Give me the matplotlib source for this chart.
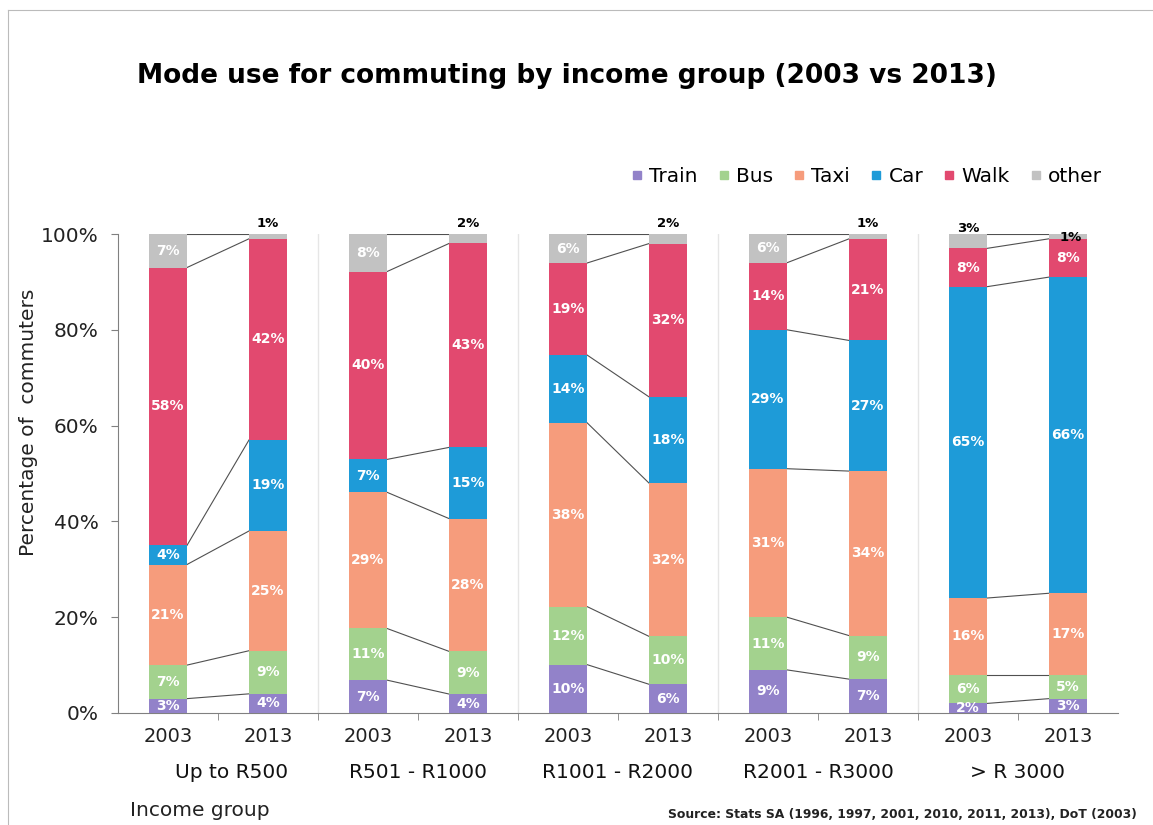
import matplotlib
matplotlib.use("Agg")
from matplotlib import pyplot as plt
from matplotlib.lines import Line2D
import numpy as np

# data (percent, as labelled)
groups = ["Up to R500", "R501 - R1000", "R1001 - R2000", "R2001 - R3000", "> R 3000"]
years = ["2003", "2013"]
modes = ["Train", "Bus", "Taxi", "Car", "Walk", "other"]
train = [3, 4, 7, 4, 10, 6, 9, 7, 2, 3]
bus = [7, 9, 11, 9, 12, 10, 11, 9, 6, 5]
taxi = [21, 25, 29, 28, 38, 32, 31, 34, 16, 17]
car = [4, 19, 7, 15, 14, 18, 29, 27, 65, 66]
walk = [58, 42, 40, 43, 19, 32, 14, 21, 8, 8]
other = [7, 1, 8, 2, 6, 2, 6, 1, 3, 1]
colors = ["#9282c9", "#a3d28e", "#f69c7c", "#1e9bd8", "#e2496f", "#c2c2c2"]

plt.rcParams['font.family'] = ['DejaVu Sans']

vals = np.array([train, bus, taxi, car, walk, other], dtype=float)
share = vals / vals.sum(axis=0) * 100   # 100% stacked
x = np.arange(vals.shape[1])
w = 0.38

fig = plt.figure(figsize=(11.53, 8.25), dpi=100)
ax = fig.add_axes([118/1153, 112/825, 1000/1153, 479/825])

bottom = np.zeros(len(x))
for i, m in enumerate(modes):
    ax.bar(x, share[i], w, bottom=bottom, color=colors[i], label=m, zorder=3)
    for j in range(len(x)):
        v = vals[i, j]
        yc = bottom[j] + share[i, j] / 2
        if m == "other" and v < 4:
            # small values written in black above the bar
            off = (0, 3)
            if j == 8:
                off = (0, -1)
            elif j == 9:
                off = (2, -7)
            ax.annotate("%d%%" % v, (x[j], 100), xytext=off, textcoords="offset points",
                        ha="center", va="bottom", fontsize=9.5, fontweight="bold", color="black",
                        annotation_clip=False, zorder=5)
        else:
            ax.text(x[j], yc, "%d%%" % v, ha="center", va="center", fontsize=10,
                    fontweight="bold", color="white", zorder=4)
    bottom = bottom + share[i]

# series lines between 2003 and 2013 bars
cum = np.cumsum(share, axis=0)
for g in range(len(groups)):
    a, b = 2 * g, 2 * g + 1
    for k in range(cum.shape[0]):
        ax.plot([x[a] + w / 2, x[b] - w / 2], [cum[k, a], cum[k, b]],
                color="#505050", lw=0.8, zorder=2)

# faint separators between income groups
for g in range(1, len(groups)):
    ax.axvline(2 * g - 0.5, color="#e6e6e6", lw=1, zorder=1)

ax.set_xlim(-0.5, len(x) - 0.5)
ax.set_ylim(0, 100)
ax.set_yticks([0, 20, 40, 60, 80, 100])
ax.set_yticklabels(["0%", "20%", "40%", "60%", "80%", "100%"], fontsize=14.5, color="#222222")
ax.set_xticks(x)
ax.set_xticklabels(years * len(groups), fontsize=14, color="#222222")
ax.tick_params(axis="x", which="major", length=0, pad=10)
ax.set_xticks(x[:-1] + 0.5, minor=True)
ax.tick_params(axis="x", which="minor", length=5, color="#808080", direction="out")
ax.tick_params(axis="y", length=5, color="#808080", pad=9)
for s in ["top", "right"]:
    ax.spines[s].set_visible(False)
for s in ["left", "bottom"]:
    ax.spines[s].set_color("#808080")

ax.set_ylabel("Percentage of  commuters", fontsize=14.5, color="#222222")
ax.yaxis.set_label_coords(-0.08, 0.607)

for g, name in enumerate(groups):
    gx = 2 * g + 0.5 + (0.14 if g == 0 else 0)
    ax.text(gx, -0.125, name, transform=ax.get_xaxis_transform(),
            ha="center", va="center", fontsize=14.5, color="#111111")

fig.text(567/1153, 1 - 76/825, "Mode use for commuting by income group (2003 vs 2013)",
         ha="center", va="center", fontsize=19, fontweight="bold", color="black")

handles = [Line2D([], [], marker="s", ls="", color=c, markersize=6) for c in colors]
fig.legend(handles, modes, loc="center right", bbox_to_anchor=(1110/1153, 1 - 177/825),
           ncol=6, frameon=False, fontsize=14.5, handletextpad=0.2, columnspacing=0.9,
           handlelength=0.8, borderaxespad=0)

fig.text(130/1153, 1 - 810/825, "Income group", ha="left", va="center", fontsize=14.5, color="#222222")
fig.text(1137/1153, 1 - 815/825, "Source: Stats SA (1996, 1997, 2001, 2010, 2011, 2013), DoT (2003)",
         ha="right", va="center", fontsize=8.9, fontweight="bold", color="#222222")

# scan frame
fig.add_artist(Line2D([8/1153, 8/1153], [0, 1 - 10/825], color="#bbbbbb", lw=0.8))
fig.add_artist(Line2D([8/1153, 1], [1 - 10/825, 1 - 10/825], color="#bbbbbb", lw=0.8))

fig.savefig("out.png", dpi=100)
